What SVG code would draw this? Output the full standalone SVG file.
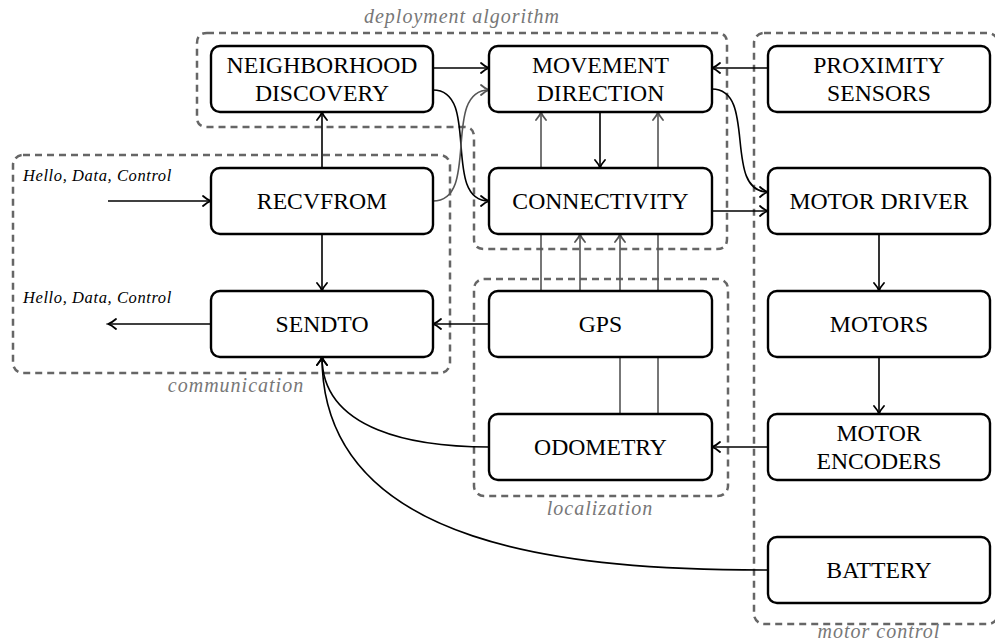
<svg xmlns="http://www.w3.org/2000/svg" width="995" height="642" viewBox="0 0 995 642">
<style>
.grp{fill:none;stroke:#666;stroke-width:2.5;stroke-dasharray:7 5}
.glab{font-family:"Liberation Serif","Times New Roman",serif;font-style:italic;font-size:20px;fill:#777;letter-spacing:1px;text-anchor:middle}
.box{fill:#fff;stroke:#000;stroke-width:2.4}
.nt{font-family:"Liberation Serif","Times New Roman",serif;font-size:23.7px;fill:#000;text-anchor:middle}
.io{font-family:"Liberation Serif","Times New Roman",serif;font-style:italic;font-size:16.5px;fill:#000;letter-spacing:0.6px}
.c{fill:none;stroke:#000;stroke-width:1.6;marker-end:url(#ah)}
.g{fill:none;stroke:#555;stroke-width:1.6;marker-end:url(#ahg)}
</style>
<defs>
<marker id="ah" viewBox="-10 -6 12 12" refX="0" refY="0" markerWidth="12" markerHeight="12" markerUnits="userSpaceOnUse" orient="auto">
<path d="M-8,-5 Q-3.5,-1 0,0 Q-3.5,1 -8,5" fill="none" stroke="#000" stroke-width="1.8" stroke-linecap="round"/>
</marker>
<marker id="ahg" viewBox="-10 -6 12 12" refX="0" refY="0" markerWidth="12" markerHeight="12" markerUnits="userSpaceOnUse" orient="auto">
<path d="M-8,-5 Q-3.5,-1 0,0 Q-3.5,1 -8,5" fill="none" stroke="#555" stroke-width="1.8" stroke-linecap="round"/>
</marker>
</defs>

<g id="groups">
<g id="grp-deployment">
<path class="grp" d="M207,33 H717 Q727,33 727,43 V239 Q727,249 717,249 H484 Q474,249 474,239 V137 Q474,127 464,127 H207 Q197,127 197,117 V43 Q197,33 207,33 Z"/>
<text class="glab" x="462" y="23">deployment algorithm</text>
</g>
<g id="grp-communication">
<rect class="grp" x="13" y="155" width="437" height="218" rx="10"/>
<text class="glab" x="236" y="392">communication</text>
</g>
<g id="grp-localization">
<rect class="grp" x="474" y="279" width="254" height="217" rx="10"/>
<text class="glab" x="600" y="515">localization</text>
</g>
<g id="grp-motor">
<rect class="grp" x="754" y="33" width="244" height="591" rx="10"/>
<text class="glab" x="879" y="638">motor control</text>
</g>
</g>

<g id="connectors">
<path class="c" d="M433,68 H489"/>
<path class="c" d="M433,90 C481,90 441,201 489,201"/>
<path class="g" d="M433,201 C481,201 441,90 489,90"/>
<path class="c" d="M768,68 H712"/>
<path class="c" d="M712,89 C758,89 722,192 768,192"/>
<path class="c" d="M712,211 H768"/>
<path class="c" d="M600,112 V168"/>
<path class="g" d="M541,291 V112"/>
<path class="g" d="M580,291 V234"/>
<path class="g" d="M620,414 V234"/>
<path class="g" d="M658,414 V112"/>
<path class="c" d="M322,168 V112"/>
<path class="c" d="M322,234 V291"/>
<path class="c" d="M108,201 H211"/>
<path class="c" d="M211,324 H108"/>
<path class="c" d="M489,324 H433"/>
<path class="c" d="M489,447 C415,447 322,431 322,357"/>
<path class="c" d="M768,570 C575,570 322,550 322,357"/>
<path class="c" d="M879,234 V291"/>
<path class="c" d="M879,357 V414"/>
<path class="c" d="M768,447 H712"/>
<text class="io" x="23" y="181">Hello, Data, Control</text>
<text class="io" x="23" y="303">Hello, Data, Control</text>
</g>

<g id="n-neighborhood"><rect class="box" x="211" y="46" width="222" height="66" rx="9"/><text class="nt" x="322" y="73">NEIGHBORHOOD</text><text class="nt" x="322" y="101">DISCOVERY</text></g>
<g id="n-movement"><rect class="box" x="489" y="46" width="223" height="66" rx="9"/><text class="nt" x="600.5" y="73">MOVEMENT</text><text class="nt" x="600.5" y="101">DIRECTION</text></g>
<g id="n-proximity"><rect class="box" x="768" y="46" width="222" height="66" rx="9"/><text class="nt" x="879" y="73">PROXIMITY</text><text class="nt" x="879" y="101">SENSORS</text></g>
<g id="n-recvfrom"><rect class="box" x="211" y="168" width="222" height="66" rx="9"/><text class="nt" x="322" y="209">RECVFROM</text></g>
<g id="n-connectivity"><rect class="box" x="489" y="168" width="223" height="66" rx="9"/><text class="nt" x="600.5" y="209">CONNECTIVITY</text></g>
<g id="n-motordriver"><rect class="box" x="768" y="168" width="222" height="66" rx="9"/><text class="nt" x="879" y="209">MOTOR DRIVER</text></g>
<g id="n-sendto"><rect class="box" x="211" y="291" width="222" height="66" rx="9"/><text class="nt" x="322" y="332">SENDTO</text></g>
<g id="n-gps"><rect class="box" x="489" y="291" width="223" height="66" rx="9"/><text class="nt" x="600.5" y="332">GPS</text></g>
<g id="n-motors"><rect class="box" x="768" y="291" width="222" height="66" rx="9"/><text class="nt" x="879" y="332">MOTORS</text></g>
<g id="n-odometry"><rect class="box" x="489" y="414" width="223" height="66" rx="9"/><text class="nt" x="600.5" y="455">ODOMETRY</text></g>
<g id="n-encoders"><rect class="box" x="768" y="414" width="222" height="66" rx="9"/><text class="nt" x="879" y="441">MOTOR</text><text class="nt" x="879" y="469">ENCODERS</text></g>
<g id="n-battery"><rect class="box" x="768" y="537" width="222" height="66" rx="9"/><text class="nt" x="879" y="578">BATTERY</text></g>
</svg>
